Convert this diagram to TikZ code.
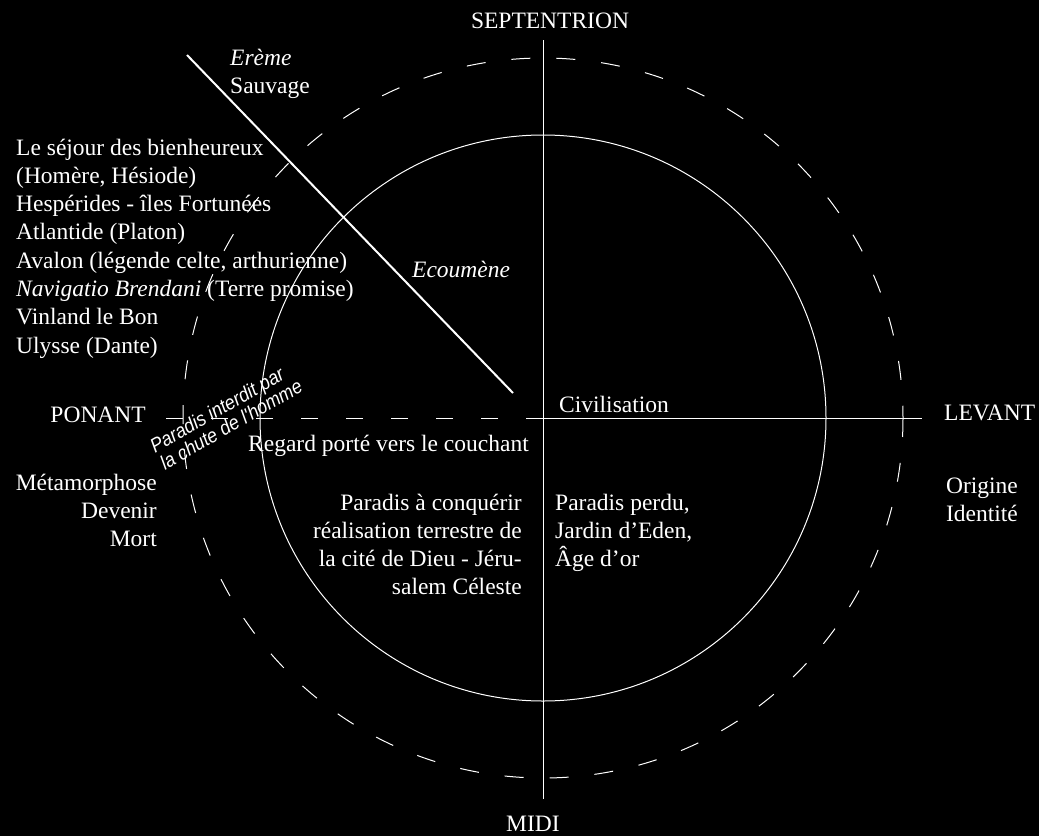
\documentclass[tikz,border=0pt]{standalone}
\usepackage{fontspec}
\setmainfont{Liberation Serif}
\newfontfamily\lsans[FakeStretch=0.9]{Liberation Sans}
\begin{document}
\begin{tikzpicture}[x=1pt,y=-1pt,
  txt/.style={text=white, inner sep=0pt, font=\fontsize{23.5}{28.3}\selectfont},
  ln/.style={draw=white, line width=1pt},
  dashln/.style={ln, dash pattern=on 17pt off 28pt},
  dashcirc/.style={ln, dash pattern=on 19pt off 26pt},
  diag/.style={draw=white, line width=2pt},
  rot/.style={text=white, inner sep=0pt, rotate=30, align=left,
    font=\lsans\itshape\fontsize{20}{20}\selectfont}
]
\fill[black] (0,0) rectangle (1039,836);
\useasboundingbox (0,0) rectangle (1039,836);

% geometry
\coordinate (O) at (543,418);
\coordinate (N) at (543,40);
\coordinate (S) at (543,799);
\coordinate (E) at (922,418);
\coordinate (W) at (163,418);
\coordinate (D1) at (187,55);
\coordinate (D2) at (513,393);

\draw[ln] (O) circle[radius=283];
\draw[dashcirc] (O) circle[radius=360];
\draw[ln] (N) -- (S);
\draw[ln] (O) -- (E);
\draw[dashln] (O) -- (W);
\draw[diag] (D1) -- (D2);

% labels
\node[txt, anchor=base] (sept) at (550,28) {SEPTENTRION};
\node[txt, anchor=base] (midi) at (533,831) {MIDI};
\node[txt, anchor=base west] (levant) at (944,420) {LEVANT};
\node[txt, anchor=base east] (ponant) at (146,422) {PONANT};
\node[txt, anchor=base west] (civ) at (559,412) {Civilisation};
\node[txt, anchor=base west] (ecou) at (412,277) {\itshape Ecoumène};
\node[txt, anchor=base west] (regard) at (248,451) {Regard porté vers le couchant};
\node[txt, anchor=base west] (ereme) at (230,65)
  {\begin{tabular}[t]{@{}l@{}}\itshape Erème\\Sauvage\end{tabular}};
\node[txt, anchor=base west] (liste) at (16,155)
  {\begin{tabular}[t]{@{}l@{}}Le séjour des bienheureux\\(Homère, Hésiode)\\Hespérides - îles Fortunées\\Atlantide (Platon)\\Avalon (légende celte, arthurienne)\\\textit{Navigatio Brendani} (Terre promise)\\Vinland le Bon\\Ulysse (Dante)\end{tabular}};
\node[txt, anchor=base east] (meta) at (157,490)
  {\begin{tabular}[t]{@{}r@{}}Métamorphose\\Devenir\\Mort\end{tabular}};
\node[txt, anchor=base] (origine) at (982,493)
  {\begin{tabular}[t]{@{}c@{}}Origine\\Identité\end{tabular}};
\node[txt, anchor=base east] (conq) at (522,510)
  {\begin{tabular}[t]{@{}r@{}}Paradis à conquérir\\réalisation terrestre de\\la cité de Dieu - Jéru-\\salem Céleste\end{tabular}};
\node[txt, anchor=base west] (perdu) at (555,510)
  {\begin{tabular}[t]{@{}l@{}}Paradis perdu,\\Jardin d’Eden,\\Âge d’or\end{tabular}};
\node[rot] (interdit) at (226,416) {Paradis interdit par\\la chute de l'homme};
\end{tikzpicture}
\end{document}
